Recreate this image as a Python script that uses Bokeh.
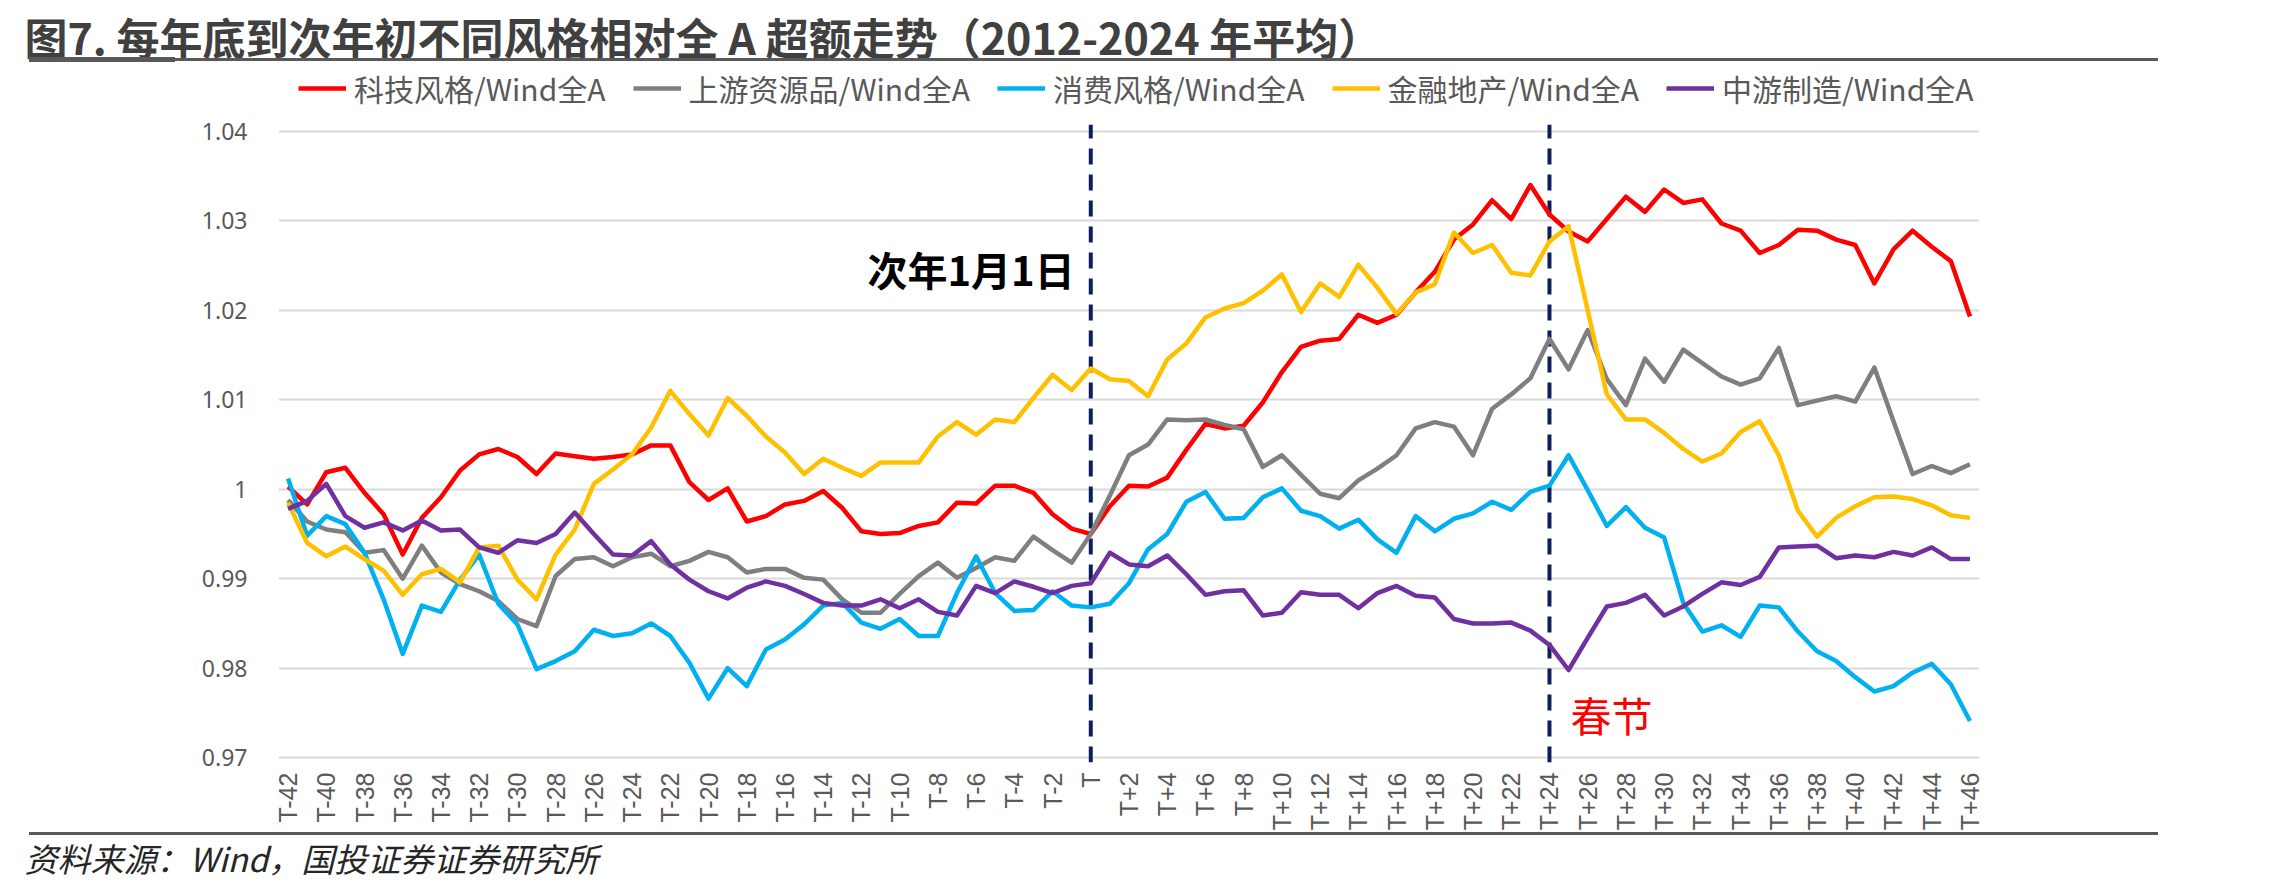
import numpy as np
from bokeh.plotting import figure
from bokeh.models import (Range1d, FixedTicker, Legend, LegendItem, Label, Title,
                          InlineStyleSheet)
from bokeh.embed import file_html
from bokeh.resources import INLINE

# ---------------- data ----------------
categories = [("T" if k == 0 else f"T{k:+d}") for k in range(-42, 47)]

tech = [1.0003, 0.9983, 1.0019, 1.0024, 0.9996, 0.9972, 0.9927, 0.9968, 0.9991, 1.0021,
        1.0039, 1.0045, 1.0036, 1.0017, 1.0040, 1.0037, 1.0034, 1.0036, 1.0039, 1.0049,
        1.0049, 1.0008, 0.9988, 1.0001, 0.9964, 0.9970, 0.9983, 0.9987, 0.9998, 0.9979,
        0.9953, 0.9950, 0.9951, 0.9959, 0.9963, 0.9985, 0.9984, 1.0004, 1.0004, 0.9996,
        0.9972, 0.9956, 0.9950, 0.9981, 1.0004, 1.0003, 1.0013, 1.0044, 1.0073, 1.0068,
        1.0071, 1.0097, 1.0131, 1.0159, 1.0166, 1.0168, 1.0195, 1.0186, 1.0195, 1.0220,
        1.0243, 1.0279, 1.0296, 1.0323, 1.0302, 1.0340, 1.0307, 1.0288, 1.0277, 1.0302,
        1.0327, 1.0310, 1.0335, 1.0320, 1.0324, 1.0297, 1.0289, 1.0264, 1.0273, 1.0290,
        1.0289, 1.0279, 1.0273, 1.0230, 1.0268, 1.0289, 1.0271, 1.0255, 1.0193]

upstream = [0.9988, 0.9964, 0.9955, 0.9952, 0.9929, 0.9932, 0.9900, 0.9937, 0.9907, 0.9894,
            0.9886, 0.9875, 0.9855, 0.9847, 0.9903, 0.9922, 0.9924, 0.9914, 0.9924, 0.9928,
            0.9914, 0.9920, 0.9930, 0.9924, 0.9907, 0.9911, 0.9911, 0.9901, 0.9899, 0.9877,
            0.9862, 0.9862, 0.9883, 0.9903, 0.9918, 0.9901, 0.9912, 0.9924, 0.9920, 0.9947,
            0.9932, 0.9918, 0.9950, 0.9993, 1.0038, 1.0050, 1.0078, 1.0077, 1.0078, 1.0072,
            1.0067, 1.0025, 1.0038, 1.0016, 0.9995, 0.9990, 1.0010, 1.0023, 1.0038, 1.0068,
            1.0075, 1.0070, 1.0038, 1.0090, 1.0106, 1.0124, 1.0168, 1.0134, 1.0178, 1.0123,
            1.0094, 1.0146, 1.0120, 1.0156, 1.0141, 1.0126, 1.0117, 1.0124, 1.0158, 1.0094,
            1.0099, 1.0104, 1.0098, 1.0136, 1.0076, 1.0017, 1.0026, 1.0018, 1.0028]

consumer = [1.0012, 0.9948, 0.9970, 0.9961, 0.9929, 0.9877, 0.9816, 0.9870, 0.9863, 0.9899,
            0.9927, 0.9872, 0.9849, 0.9799, 0.9808, 0.9819, 0.9843, 0.9836, 0.9839, 0.9850,
            0.9836, 0.9806, 0.9766, 0.9800, 0.9780, 0.9821, 0.9832, 0.9849, 0.9870, 0.9873,
            0.9851, 0.9844, 0.9855, 0.9836, 0.9836, 0.9884, 0.9925, 0.9884, 0.9864, 0.9865,
            0.9886, 0.9870, 0.9868, 0.9872, 0.9895, 0.9933, 0.9950, 0.9986, 0.9997, 0.9967,
            0.9968, 0.9991, 1.0001, 0.9976, 0.9970, 0.9956, 0.9966, 0.9944, 0.9929, 0.9970,
            0.9953, 0.9967, 0.9973, 0.9986, 0.9977, 0.9997, 1.0004, 1.0038, 0.9999, 0.9959,
            0.9980, 0.9957, 0.9946, 0.9873, 0.9841, 0.9848, 0.9835, 0.9870, 0.9868, 0.9841,
            0.9819, 0.9808, 0.9790, 0.9774, 0.9780, 0.9795, 0.9805, 0.9782, 0.9741]

finance = [0.9985, 0.9940, 0.9925, 0.9936, 0.9922, 0.9909, 0.9882, 0.9905, 0.9911, 0.9896,
           0.9935, 0.9937, 0.9899, 0.9877, 0.9927, 0.9955, 1.0006, 1.0022, 1.0039, 1.0069,
           1.0110, 1.0084, 1.0060, 1.0102, 1.0082, 1.0059, 1.0041, 1.0017, 1.0034, 1.0024,
           1.0015, 1.0030, 1.0030, 1.0030, 1.0059, 1.0075, 1.0061, 1.0078, 1.0075, 1.0102,
           1.0128, 1.0111, 1.0135, 1.0123, 1.0121, 1.0104, 1.0145, 1.0163, 1.0192, 1.0202,
           1.0208, 1.0222, 1.0240, 1.0198, 1.0230, 1.0215, 1.0251, 1.0225, 1.0196, 1.0220,
           1.0229, 1.0287, 1.0264, 1.0273, 1.0242, 1.0239, 1.0277, 1.0294, 1.0200, 1.0106,
           1.0078, 1.0078, 1.0063, 1.0045, 1.0031, 1.0040, 1.0064, 1.0076, 1.0038, 0.9976,
           0.9947, 0.9968, 0.9981, 0.9991, 0.9992, 0.9989, 0.9982, 0.9971, 0.9968]

midstream = [0.9978, 0.9987, 1.0006, 0.9970, 0.9957, 0.9963, 0.9954, 0.9965, 0.9954, 0.9955,
             0.9935, 0.9929, 0.9943, 0.9940, 0.9950, 0.9974, 0.9950, 0.9927, 0.9926, 0.9942,
             0.9916, 0.9899, 0.9886, 0.9878, 0.9890, 0.9897, 0.9892, 0.9883, 0.9873, 0.9870,
             0.9870, 0.9877, 0.9867, 0.9877, 0.9863, 0.9859, 0.9892, 0.9884, 0.9897, 0.9891,
             0.9884, 0.9892, 0.9895, 0.9929, 0.9916, 0.9914, 0.9926, 0.9905, 0.9882, 0.9886,
             0.9887, 0.9859, 0.9862, 0.9885, 0.9882, 0.9882, 0.9867, 0.9884, 0.9892, 0.9881,
             0.9879, 0.9855, 0.9850, 0.9850, 0.9851, 0.9842, 0.9826, 0.9798, 0.9834, 0.9869,
             0.9873, 0.9882, 0.9859, 0.9869, 0.9883, 0.9896, 0.9893, 0.9902, 0.9935, 0.9936,
             0.9937, 0.9923, 0.9926, 0.9924, 0.9930, 0.9926, 0.9935, 0.9922, 0.9922]

series_names = ["科技风格/Wind全A", "上游资源品/Wind全A", "消费风格/Wind全A",
                "金融地产/Wind全A", "中游制造/Wind全A"]
series_values = [tech, upstream, consumer, finance, midstream]
series_colors = ["#ff0000", "#7f7f7f", "#00b0f0", "#ffc000", "#7030a0"]

y_ticks = [0.97, 0.98, 0.99, 1.00, 1.01, 1.02, 1.03, 1.04]
y_tick_labels = ["0.97", "0.98", "0.99", "1", "1.01", "1.02", "1.03", "1.04"]

marker_new_year = "T"
marker_spring = "T+24"

title_text = "图7. 每年底到次年初不同风格相对全 A 超额走势（2012-2024 年平均）"
source_text = "资料来源：Wind，国投证券证券研究所"
note_new_year = "次年1月1日"
note_spring = "春节"

# ---------------- geometry ----------------
W, H = 2279, 892
FL, FR, FT, FB = 278, 300, 66, 130
PX_PER_UNIT = 8943.0          # pixels per 1.0 of the value axis
Y_TOP_TICK_PX, Y_BOT_TICK_PX = 130.8, 757.2
y_end = y_ticks[-1] + (Y_TOP_TICK_PX - FT) / PX_PER_UNIT
y_start = y_ticks[0] - ((H - FB) - Y_BOT_TICK_PX) / PX_PER_UNIT
marker_top = y_ticks[-1] + 6.5 / PX_PER_UNIT

n = len(categories)
x = list(range(n))

rules_css = InlineStyleSheet(css="""
:host::before { content: ""; position: absolute; left: 29px; top: 57px; width: 2129px; height: 5px;
  background: linear-gradient(#595959, #595959) 0 0 / 146px 5px no-repeat,
              linear-gradient(#595959, #595959) 0 1px / 100% 3px no-repeat;
  z-index: 100; }
:host::after { content: ""; position: absolute; left: 29px; top: 832px; width: 2129px;
  height: 3px; background: #595959; z-index: 100; }
""")

p = figure(width=W, height=H, output_backend="svg", toolbar_location=None,
           x_range=Range1d(-0.5, n - 0.5), y_range=Range1d(y_start, y_end),
           min_border_left=FL, min_border_right=FR, min_border_top=FT, min_border_bottom=FB,
           stylesheets=[rules_css])
p.outline_line_color = None
p.background_fill_color = "white"
p.border_fill_color = "white"
p.xgrid.visible = False
p.ygrid.grid_line_color = "#d9d9d9"
p.ygrid.grid_line_width = 2

# title (above panel)
p.title.text = title_text
p.title.align = "left"
p.title.offset = 29 - FL - 5
p.title.standoff = 0
p.title.text_font = "Noto Sans CJK SC"
p.title.text_font_style = "bold"
p.title.text_font_size = "43px"
p.title.text_color = "#404040"

# axes
p.yaxis.ticker = FixedTicker(ticks=y_ticks)
p.yaxis.major_label_overrides = dict(zip(y_ticks, y_tick_labels))
p.yaxis.axis_line_color = None
p.yaxis.major_tick_line_color = None
p.yaxis.minor_tick_line_color = None
p.yaxis.major_label_standoff = 25
p.yaxis.major_label_text_font = "Noto Sans"
p.yaxis.major_label_text_font_size = "23px"
p.yaxis.major_label_text_color = "#595959"

p.xaxis.ticker = FixedTicker(ticks=list(range(0, n, 2)))
p.xaxis.major_label_overrides = {i: categories[i] for i in range(n)}
p.xaxis.major_label_orientation = np.pi / 2
p.xaxis.axis_line_color = None
p.xaxis.major_tick_line_color = None
p.xaxis.minor_tick_line_color = None
p.xaxis.major_label_standoff = 4
p.xaxis.major_label_text_font = "Liberation Sans"
p.xaxis.major_label_text_font_size = "25px"
p.xaxis.major_label_text_color = "#595959"

# dashed markers at T and T+24
mk = [categories.index(marker_new_year), categories.index(marker_spring)]
p.segment(x0=mk, x1=mk, y0=[y_start] * 2, y1=[marker_top] * 2,
          line_color="#0c1f5c", line_width=4, line_dash="16 10")

renderers = []
for name, vals, col in zip(series_names, series_values, series_colors):
    r = p.line(x, vals, line_color=col, line_width=4.5, line_join="round")
    renderers.append(r)

legend = Legend(items=[LegendItem(label=nm, renderers=[r]) for nm, r in zip(series_names, renderers)],
                orientation="horizontal", location=(298 - FL, (H - FB) - 110),
                border_line_color=None, background_fill_alpha=0, margin=0, padding=0,
                spacing=27, label_standoff=8, glyph_width=48, glyph_height=24,
                label_text_font="Noto Sans CJK SC", label_text_font_size="30px",
                label_text_line_height=0.95, label_height=24,
                label_text_color="#595959")
p.add_layout(legend)


def scr(cx, cy):
    return cx - FL, (H - FB) - cy


nx, ny = scr(867, 268)
p.add_layout(Label(x=nx, y=ny, x_units="screen", y_units="screen", text=note_new_year,
                   text_font="Noto Sans CJK SC", text_font_style="bold", text_font_size="40px",
                   text_color="#000000", text_baseline="middle", text_align="left"))

sx_, sy_ = scr(1570, 713)
p.add_layout(Label(x=sx_, y=sy_, x_units="screen", y_units="screen", text=note_spring,
                   text_font="Noto Sans CJK SC", text_font_size="41px",
                   text_color="#ff0000", text_baseline="middle", text_align="left"))

# source (below panel)
p.add_layout(Title(text=source_text, align="left", offset=29 - FL - 5, standoff=0,
                   vertical_align="top",
                   text_font="Noto Sans CJK SC", text_font_style="italic", text_font_size="33px",
                   text_color="#262626"), "below")

open("out.html", "w").write(file_html(p, INLINE))
